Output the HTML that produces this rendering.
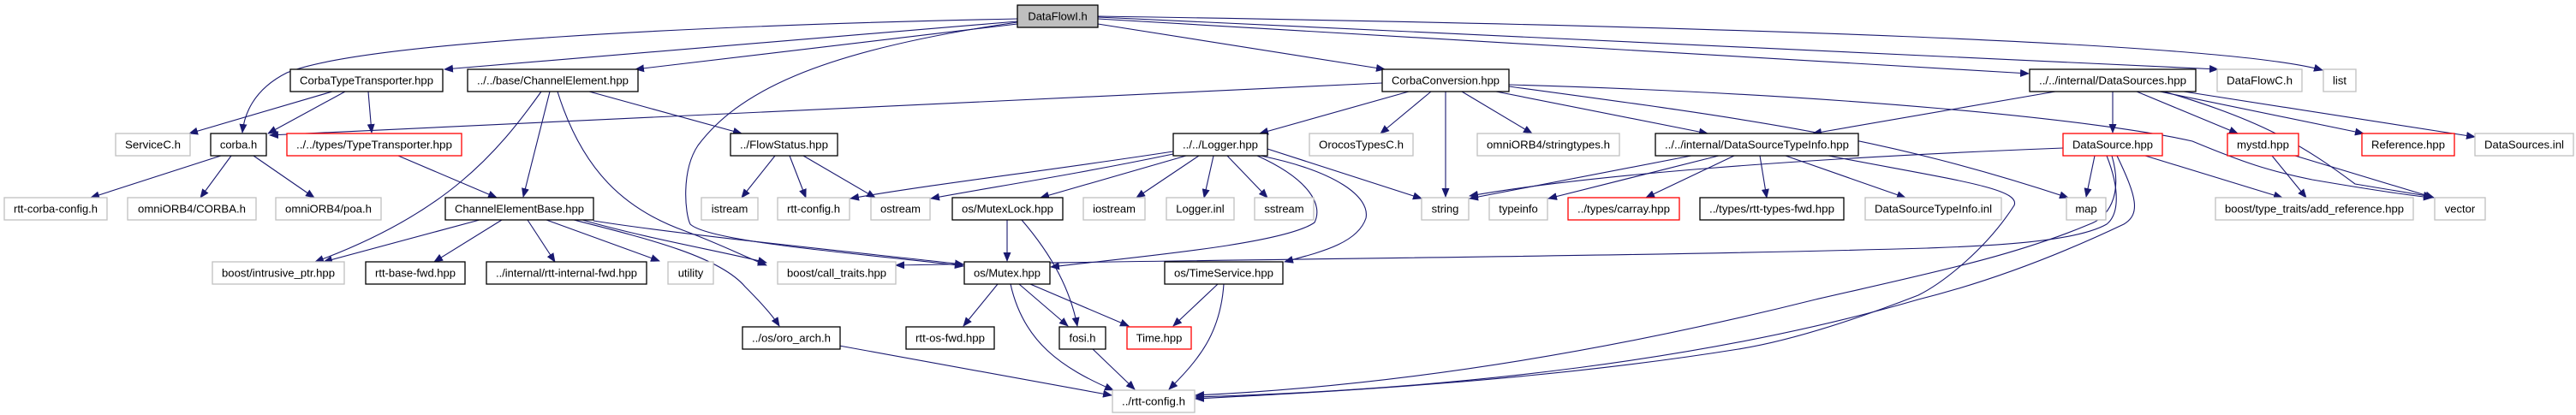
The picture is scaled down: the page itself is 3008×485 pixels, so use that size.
<!DOCTYPE html>
<html><head><meta charset="utf-8"><style>
html,body{margin:0;padding:0;background:#fff;}
svg{display:block;}
text{font-family:"Liberation Sans",sans-serif;font-size:13px;fill:#000;}
.e{fill:none;stroke:#191970;stroke-width:1.1;marker-end:url(#a);}
.b{fill:#fff;stroke:#000;stroke-width:1.3;}
.g{fill:#fff;stroke:#c0c0c0;stroke-width:1.3;}
.r{fill:#fff;stroke:#ff0000;stroke-width:1.3;}
</style></head><body>
<svg width="3008" height="485" viewBox="0 0 3008 485" xmlns="http://www.w3.org/2000/svg">
<defs><marker id="a" markerWidth="11" markerHeight="9" refX="10" refY="4.5" orient="auto" markerUnits="userSpaceOnUse"><path d="M0,0 L11,4.5 L0,9 z" fill="#191970"/></marker></defs>
<g>
<!-- DataFlowI edges -->
<path class="e" d="M1188,22 C800,30 420,50 335,85 C295,105 285,135 283,155"/>
<path class="e" d="M1188,25 L519,81"/>
<path class="e" d="M1188,28 L742,81"/>
<path class="e" d="M1282,28 L1617,81"/>
<path class="e" d="M1282,22 L2369,86"/>
<path class="e" d="M1282,20 L2590,81"/>
<path class="e" d="M1282,19 C2000,30 2600,50 2712,82"/>
<path class="e" d="M1188,26 C950,60 860,110 815,170 C795,200 800,250 806,262 C830,285 1050,300 1125,311"/>
<!-- CorbaTypeTransporter -->
<path class="e" d="M388,107 L221,156"/>
<path class="e" d="M403,107 L313,156"/>
<path class="e" d="M430,107 L434,155"/>
<!-- ChannelElement -->
<path class="e" d="M632,107 C580,180 520,250 368,306"/>
<path class="e" d="M642,107 L611,230"/>
<path class="e" d="M651,107 C680,200 730,245 800,270 C840,285 870,300 895,310"/>
<path class="e" d="M688,107 L866,156"/>
<!-- CorbaConversion -->
<path class="e" d="M1614,97 L315,158"/>
<path class="e" d="M1645,107 L1471,156"/>
<path class="e" d="M1671,107 L1612,156"/>
<path class="e" d="M1688,107 L1688,230"/>
<path class="e" d="M1707,107 L1789,156"/>
<path class="e" d="M1747,107 L1994,156"/>
<path class="e" d="M1762,99 C2150,110 2450,140 2560,165 C2620,190 2650,200 2700,210 C2770,222 2810,228 2840,231"/>
<path class="e" d="M1762,101 C2050,140 2200,160 2415,231"/>
<!-- TypeTransporter -->
<path class="e" d="M465,182 L580,231"/>
<!-- ChannelElementBase -->
<path class="e" d="M560,257 L378,306"/>
<path class="e" d="M586,257 L507,306"/>
<path class="e" d="M616,257 L648,306"/>
<path class="e" d="M638,257 L770,305"/>
<path class="e" d="M680,257 C760,280 850,295 895,307"/>
<path class="e" d="M693,258 C800,275 1000,295 1125,309"/>
<path class="e" d="M670,257 C760,280 840,300 870,335 C890,355 903,370 910,381"/>
<!-- corba.h -->
<path class="e" d="M258,182 L106,231"/>
<path class="e" d="M270,182 L234,231"/>
<path class="e" d="M296,182 L367,231"/>
<!-- FlowStatus -->
<path class="e" d="M905,182 L866,231"/>
<path class="e" d="M922,182 L941,231"/>
<path class="e" d="M938,182 L1022,231"/>
<!-- Logger -->
<path class="e" d="M1370,177 C1220,200 1090,215 993,232"/>
<path class="e" d="M1370,180 C1250,205 1150,220 1087,232"/>
<path class="e" d="M1385,182 L1215,231"/>
<path class="e" d="M1400,182 L1327,231"/>
<path class="e" d="M1417,182 L1406,231"/>
<path class="e" d="M1433,182 L1480,231"/>
<path class="e" d="M1480,174 L1660,232"/>
<path class="e" d="M1468,182 C1530,210 1545,240 1535,260 C1500,285 1330,300 1227,312"/>
<path class="e" d="M1472,182 C1560,200 1600,230 1595,255 C1585,285 1540,295 1500,306"/>
<!-- DataSourceTypeInfo.hpp -->
<path class="e" d="M1975,182 L1716,232"/>
<path class="e" d="M2007,182 L1808,232"/>
<path class="e" d="M2025,182 L1922,231"/>
<path class="e" d="M2055,182 L2063,231"/>
<path class="e" d="M2085,182 L2225,231"/>
<path class="e" d="M2135,182 C2280,210 2360,220 2352,240 C2320,290 2270,330 2240,345 C2150,380 2080,400 2030,408 C1800,445 1550,458 1396,466"/>
<!-- DataSources.hpp -->
<path class="e" d="M2400,107 L2117,156"/>
<path class="e" d="M2467,107 L2467,155"/>
<path class="e" d="M2495,107 L2613,156"/>
<path class="e" d="M2522,107 L2760,156"/>
<path class="e" d="M2550,107 L2890,160"/>
<path class="e" d="M2527,107 C2640,140 2690,170 2750,215 L2840,230"/>
<!-- DataSource.hpp -->
<path class="e" d="M2409,173 C2100,185 1850,205 1716,229"/>
<path class="e" d="M2446,182 L2436,230"/>
<path class="e" d="M2505,182 L2665,231"/>
<path class="e" d="M2460,182 C2475,220 2475,250 2460,262 C2420,285 2300,288 2250,290 C1900,300 1500,302 1046,310"/>
<path class="e" d="M2466,182 C2480,230 2460,255 2440,262 C2350,300 2250,320 2120,350 C1900,405 1650,450 1396,462"/>
<path class="e" d="M2472,182 C2495,230 2500,250 2480,262 C2400,300 2320,330 2240,350 C2000,420 1700,455 1396,464"/>
<!-- mystd -->
<path class="e" d="M2653,182 L2693,231"/>
<path class="e" d="M2680,182 L2842,231"/>
<!-- MutexLock -->
<path class="e" d="M1176,257 L1176,305"/>
<path class="e" d="M1193,257 C1230,300 1250,340 1258,381"/>
<!-- Mutex -->
<path class="e" d="M1165,332 L1125,381"/>
<path class="e" d="M1190,332 L1247,381"/>
<path class="e" d="M1203,332 L1318,381"/>
<path class="e" d="M1180,332 C1195,400 1240,430 1300,456"/>
<!-- TimeService -->
<path class="e" d="M1422,332 L1370,381"/>
<path class="e" d="M1429,332 C1425,390 1400,420 1365,455"/>
<path class="e" d="M1275,407 L1325,455"/>
<path class="e" d="M980,404 L1298,462"/>
</g>
<g>
<rect x="1188" y="6" width="94" height="26" fill="#bfbfbf" stroke="#000" stroke-width="1.3"/>
<text x="1235" y="23.5" text-anchor="middle">DataFlowI.h</text>

<rect class="b" x="339" y="81" width="178" height="26"/><text x="428" y="98.5" text-anchor="middle" textLength="156" lengthAdjust="spacingAndGlyphs">CorbaTypeTransporter.hpp</text>
<rect class="b" x="546" y="81" width="199" height="26"/><text x="645.5" y="98.5" text-anchor="middle" textLength="177" lengthAdjust="spacingAndGlyphs">../../base/ChannelElement.hpp</text>
<rect class="b" x="1614" y="81" width="148" height="26"/><text x="1688" y="98.5" text-anchor="middle" textLength="126" lengthAdjust="spacingAndGlyphs">CorbaConversion.hpp</text>
<rect class="b" x="2370" y="81" width="194" height="26"/><text x="2467" y="98.5" text-anchor="middle" textLength="172" lengthAdjust="spacingAndGlyphs">../../internal/DataSources.hpp</text>
<rect class="g" x="2589" y="81" width="99" height="26"/><text x="2638.5" y="98.5" text-anchor="middle" textLength="77" lengthAdjust="spacingAndGlyphs">DataFlowC.h</text>
<rect class="g" x="2713" y="81" width="38" height="26"/><text x="2732" y="98.5" text-anchor="middle">list</text>

<rect class="g" x="135" y="156" width="87" height="26"/><text x="178.5" y="173.5" text-anchor="middle" textLength="65" lengthAdjust="spacingAndGlyphs">ServiceC.h</text>
<rect class="b" x="246" y="156" width="65" height="26"/><text x="278.5" y="173.5" text-anchor="middle">corba.h</text>
<rect class="r" x="335" y="156" width="204" height="26"/><text x="437" y="173.5" text-anchor="middle" textLength="182" lengthAdjust="spacingAndGlyphs">../../types/TypeTransporter.hpp</text>
<rect class="b" x="853" y="156" width="125" height="26"/><text x="915.5" y="173.5" text-anchor="middle" textLength="103" lengthAdjust="spacingAndGlyphs">../FlowStatus.hpp</text>
<rect class="b" x="1370" y="156" width="110" height="26"/><text x="1425" y="173.5" text-anchor="middle" textLength="88" lengthAdjust="spacingAndGlyphs">../../Logger.hpp</text>
<rect class="g" x="1529" y="156" width="121" height="26"/><text x="1589.5" y="173.5" text-anchor="middle" textLength="99" lengthAdjust="spacingAndGlyphs">OrocosTypesC.h</text>
<rect class="g" x="1725" y="156" width="166" height="26"/><text x="1808" y="173.5" text-anchor="middle" textLength="144" lengthAdjust="spacingAndGlyphs">omniORB4/stringtypes.h</text>
<rect class="b" x="1933" y="156" width="237" height="26"/><text x="2051.5" y="173.5" text-anchor="middle" textLength="215" lengthAdjust="spacingAndGlyphs">../../internal/DataSourceTypeInfo.hpp</text>
<rect class="r" x="2409" y="156" width="116" height="26"/><text x="2467" y="173.5" text-anchor="middle" textLength="94" lengthAdjust="spacingAndGlyphs">DataSource.hpp</text>
<rect class="r" x="2601" y="156" width="83" height="26"/><text x="2642.5" y="173.5" text-anchor="middle" textLength="61" lengthAdjust="spacingAndGlyphs">mystd.hpp</text>
<rect class="r" x="2758" y="156" width="108" height="26"/><text x="2812" y="173.5" text-anchor="middle" textLength="86" lengthAdjust="spacingAndGlyphs">Reference.hpp</text>
<rect class="g" x="2890" y="156" width="115" height="26"/><text x="2947.5" y="173.5" text-anchor="middle" textLength="93" lengthAdjust="spacingAndGlyphs">DataSources.inl</text>

<rect class="g" x="5" y="231" width="120" height="26"/><text x="65" y="248.5" text-anchor="middle" textLength="98" lengthAdjust="spacingAndGlyphs">rtt-corba-config.h</text>
<rect class="g" x="149" y="231" width="150" height="26"/><text x="224" y="248.5" text-anchor="middle" textLength="126" lengthAdjust="spacingAndGlyphs">omniORB4/CORBA.h</text>
<rect class="g" x="322" y="231" width="123" height="26"/><text x="383.5" y="248.5" text-anchor="middle" textLength="101" lengthAdjust="spacingAndGlyphs">omniORB4/poa.h</text>
<rect class="b" x="520" y="231" width="173" height="26"/><text x="606.5" y="248.5" text-anchor="middle" textLength="151" lengthAdjust="spacingAndGlyphs">ChannelElementBase.hpp</text>
<rect class="g" x="819" y="231" width="66" height="26"/><text x="852" y="248.5" text-anchor="middle">istream</text>
<rect class="g" x="908" y="231" width="84" height="26"/><text x="950" y="248.5" text-anchor="middle" textLength="62" lengthAdjust="spacingAndGlyphs">rtt-config.h</text>
<rect class="g" x="1017" y="231" width="69" height="26"/><text x="1051.5" y="248.5" text-anchor="middle">ostream</text>
<rect class="b" x="1112" y="231" width="129" height="26"/><text x="1176.5" y="248.5" text-anchor="middle" textLength="107" lengthAdjust="spacingAndGlyphs">os/MutexLock.hpp</text>
<rect class="g" x="1265" y="231" width="72" height="26"/><text x="1301" y="248.5" text-anchor="middle">iostream</text>
<rect class="g" x="1362" y="231" width="79" height="26"/><text x="1401.5" y="248.5" text-anchor="middle">Logger.inl</text>
<rect class="g" x="1465" y="231" width="69" height="26"/><text x="1499.5" y="248.5" text-anchor="middle">sstream</text>
<rect class="g" x="1660" y="231" width="55" height="26"/><text x="1687.5" y="248.5" text-anchor="middle">string</text>
<rect class="g" x="1739" y="231" width="68" height="26"/><text x="1773" y="248.5" text-anchor="middle">typeinfo</text>
<rect class="r" x="1831" y="231" width="130" height="26"/><text x="1896" y="248.5" text-anchor="middle" textLength="108" lengthAdjust="spacingAndGlyphs">../types/carray.hpp</text>
<rect class="b" x="1985" y="231" width="168" height="26"/><text x="2069" y="248.5" text-anchor="middle" textLength="146" lengthAdjust="spacingAndGlyphs">../types/rtt-types-fwd.hpp</text>
<rect class="g" x="2178" y="231" width="159" height="26"/><text x="2257.5" y="248.5" text-anchor="middle" textLength="137" lengthAdjust="spacingAndGlyphs">DataSourceTypeInfo.inl</text>
<rect class="g" x="2413" y="231" width="46" height="26"/><text x="2436" y="248.5" text-anchor="middle">map</text>
<rect class="g" x="2587" y="231" width="231" height="26"/><text x="2702.5" y="248.5" text-anchor="middle" textLength="209" lengthAdjust="spacingAndGlyphs">boost/type_traits/add_reference.hpp</text>
<rect class="g" x="2843" y="231" width="59" height="26"/><text x="2872.5" y="248.5" text-anchor="middle">vector</text>

<rect class="g" x="248" y="306" width="154" height="26"/><text x="325" y="323.5" text-anchor="middle" textLength="132" lengthAdjust="spacingAndGlyphs">boost/intrusive_ptr.hpp</text>
<rect class="b" x="427" y="306" width="116" height="26"/><text x="485" y="323.5" text-anchor="middle" textLength="94" lengthAdjust="spacingAndGlyphs">rtt-base-fwd.hpp</text>
<rect class="b" x="568" y="306" width="187" height="26"/><text x="661.5" y="323.5" text-anchor="middle" textLength="165" lengthAdjust="spacingAndGlyphs">../internal/rtt-internal-fwd.hpp</text>
<rect class="g" x="780" y="306" width="53" height="26"/><text x="806.5" y="323.5" text-anchor="middle">utility</text>
<rect class="g" x="908" y="306" width="138" height="26"/><text x="977" y="323.5" text-anchor="middle" textLength="116" lengthAdjust="spacingAndGlyphs">boost/call_traits.hpp</text>
<rect class="b" x="1126" y="306" width="100" height="26"/><text x="1176" y="323.5" text-anchor="middle" textLength="78" lengthAdjust="spacingAndGlyphs">os/Mutex.hpp</text>
<rect class="b" x="1360" y="306" width="138" height="26"/><text x="1429" y="323.5" text-anchor="middle" textLength="116" lengthAdjust="spacingAndGlyphs">os/TimeService.hpp</text>

<rect class="b" x="867" y="382" width="114" height="26"/><text x="924" y="399.5" text-anchor="middle" textLength="92" lengthAdjust="spacingAndGlyphs">../os/oro_arch.h</text>
<rect class="b" x="1058" y="382" width="103" height="26"/><text x="1109.5" y="399.5" text-anchor="middle" textLength="81" lengthAdjust="spacingAndGlyphs">rtt-os-fwd.hpp</text>
<rect class="b" x="1237" y="382" width="54" height="26"/><text x="1264" y="399.5" text-anchor="middle">fosi.h</text>
<rect class="r" x="1316" y="382" width="75" height="26"/><text x="1353.5" y="399.5" text-anchor="middle">Time.hpp</text>

<rect class="g" x="1299" y="456" width="96" height="26"/><text x="1347" y="473.5" text-anchor="middle" textLength="74" lengthAdjust="spacingAndGlyphs">../rtt-config.h</text>
</g>
</svg>
</body></html>
